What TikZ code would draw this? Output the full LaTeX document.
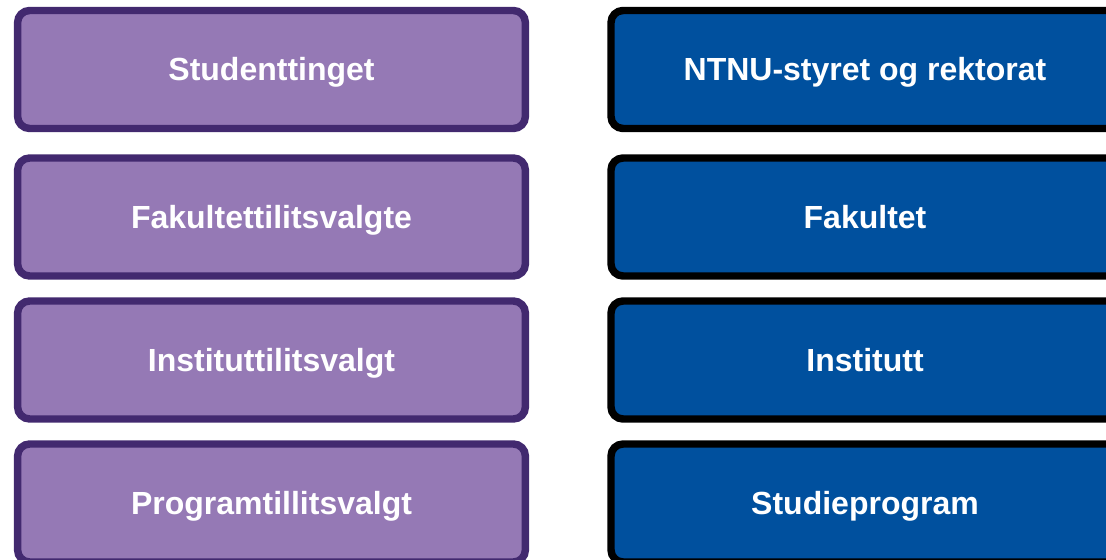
\documentclass[tikz,border=0pt]{standalone}
\usepackage{fontspec}
\setmainfont{Liberation Sans}
\definecolor{purplefill}{HTML}{9579B5}
\definecolor{purpleline}{HTML}{42296F}
\definecolor{ntnublue}{HTML}{00509E}
\tikzset{
  box/.style={rectangle, rounded corners=9pt, line width=5.6pt,
    minimum width=380.8pt, minimum height=88.5pt, inner sep=0pt, outer sep=0pt,
    text height=17.2pt, text depth=0pt,
    text=white, font=\fontsize{24}{28}\selectfont\bfseries},
  studbox/.style={box, fill=purplefill, draw=purpleline},
  orgbox/.style={box, fill=ntnublue, draw=black, minimum width=381pt},
}
\begin{document}
\begin{tikzpicture}[x=0.75pt, y=-0.75pt]
\useasboundingbox (0,0) rectangle (1106,560);
\clip (0,0) rectangle (1106,560);
\node[studbox] (s1) at (271.5,69.5) {Studenttinget};
\node[studbox] (s2) at (271.5,217) {Fakultettilitsvalgte};
\node[studbox] (s3) at (271.5,360) {Instituttilitsvalgt};
\node[studbox] (s4) at (271.5,503) {Programtillitsvalgt};
\node[orgbox] (o1) at (865,69.5) {NTNU-styret og rektorat};
\node[orgbox] (o2) at (865,217) {Fakultet};
\node[orgbox] (o3) at (865,360) {Institutt};
\node[orgbox] (o4) at (865,503) {Studieprogram};
\end{tikzpicture}
\end{document}
